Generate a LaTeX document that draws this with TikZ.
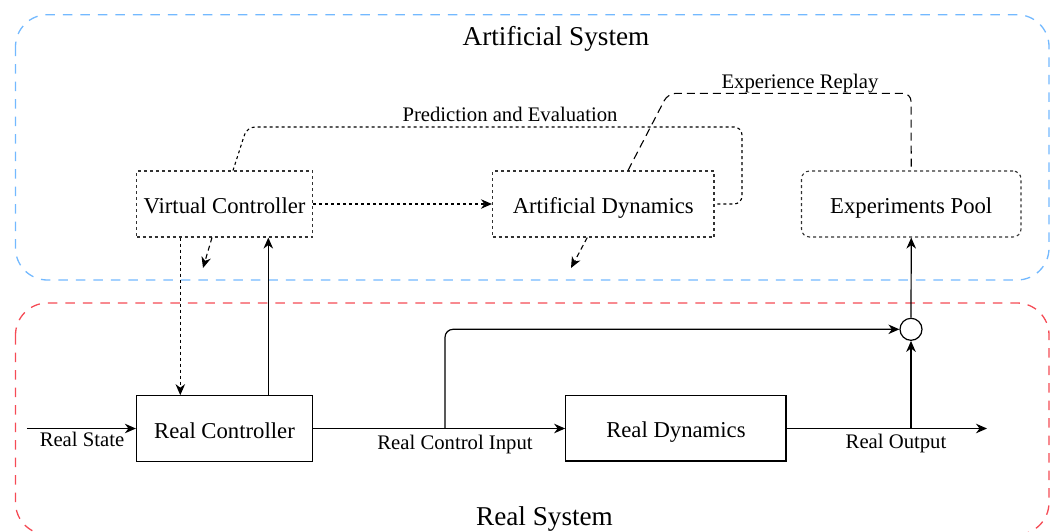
\documentclass[tikz,border=0pt]{standalone}
\usepackage{fontspec}
\setmainfont{Liberation Serif}
\usetikzlibrary{arrows.meta}
\definecolor{sysblue}{RGB}{115,185,255}
\definecolor{sysred}{RGB}{245,75,85}
\definecolor{dotgray}{RGB}{50,50,50}
\tikzset{
  tip/.style={-{Stealth[length=11pt,width=9.5pt,inset=3.5pt]}},
  solidbox/.style={draw, line width=1.2pt, minimum width=176pt, minimum height=65.5pt, inner sep=0pt, text height=19pt, text depth=0pt, font=\fontsize{22.7}{26}\selectfont},
  dotbox/.style={draw=dotgray, line width=1.1pt, dash pattern=on 3pt off 3pt, minimum height=66pt, inner sep=0pt, text height=18.6pt, text depth=0pt, font=\fontsize{22.7}{26}\selectfont},
  dotline/.style={line width=1.1pt, dash pattern=on 3pt off 3pt},
  dashline/.style={line width=1.1pt, dash pattern=on 5pt off 3.5pt},
  longdash/.style={line width=1.1pt, dash pattern=on 8pt off 5pt},
  conn/.style={line width=1.2pt},
  lbl/.style={anchor=base, inner sep=0pt, font=\fontsize{20.7}{24}\selectfont},
  title/.style={anchor=base, inner sep=0pt, font=\fontsize{27.2}{30}\selectfont},
  container/.style={line width=1.3pt, dash pattern=on 9.5pt off 8pt, rounded corners=32pt}
}
\begin{document}
\begin{tikzpicture}[x=1pt,y=-1pt]
\useasboundingbox (0,0) rectangle (1057,531);
\clip (0,0) rectangle (1057,531);
% containers
\draw[container, draw=sysblue] (15.5,14.7) rectangle (1049,280);
\draw[container, draw=sysred] (15.5,303) rectangle (1049,534.5);
\node[title] (tart) at (556,45) {Artificial System};
\node[title] (treal) at (544.5,525.7) {Real System};
% boxes
\node[dotbox, minimum width=176pt] (vc) at (224.5,204) {Virtual Controller};
\node[dotbox, minimum width=221.5pt] (ad) at (603.25,204) {Artificial Dynamics};
\node[dotbox, minimum width=219.5pt, rounded corners=8pt] (ep) at (911.25,204) {Experiments Pool};
\node[solidbox] (rc) at (224.5,428.5) {Real Controller};
\node[solidbox, minimum width=220.3pt] (rd) at (675.9,428.3) {Real Dynamics};
\node[draw, circle, line width=1.2pt, minimum size=22pt, inner sep=0pt] (sum) at (911,329.3) {};
% free ends
\coordinate (rsin) at (26.8,428.5);
\coordinate (rout) at (987,428.5);
\coordinate (bout) at (911,428.5);
\coordinate (bin) at (445,428.5);
\coordinate (vcend) at (203,268);
\coordinate (adend) at (571,268);
% real loop
\draw[conn, tip] (rsin) -- (rc.west);
\node[lbl] (lrs) at (82,446.7) {Real State};
\draw[conn, tip] (rc.east) -- (rd.west |- rc.east);
\node[lbl] (lrci) at (455,449) {Real Control Input};
\draw[conn, tip] (rd.east |- rout) -- (rout);
\node[lbl] (lro) at (896,448) {Real Output};
\draw[conn, tip] (bout) -- (sum.south);
\draw[conn, tip, rounded corners=8pt] (bin) |- (sum.west);
\draw[conn, tip] (sum.north) -- (ep.south);
\draw[conn, tip] ([xshift=43.8pt]rc.north) -- ([xshift=43.8pt]vc.south);
\draw[dotline, tip] ([xshift=-44.2pt]vc.south) -- ([xshift=-44.2pt]rc.north);
% artificial system connectors
\draw[dashline, tip] ([xshift=-12.5pt]vc.south) -- (vcend);
\draw[dashline, tip] ([xshift=-16pt]ad.south) -- (adend);
\draw[dotline, tip] (vc.east) -- (ad.west);
\draw[dotline, rounded corners=8pt] ([xshift=8.5pt]vc.north) -- (247,127) -- (742,127) -- (742,204) -- (ad.east);
\node[lbl] (lpe) at (510,121.7) {Prediction and Evaluation};
\draw[longdash, rounded corners=8pt] ([xshift=24.75pt]ad.north) -- (668,93.3) -- (911,93.3) -- (ep.north);
\node[lbl] (ler) at (800,88) {Experience Replay};
\end{tikzpicture}
\end{document}
